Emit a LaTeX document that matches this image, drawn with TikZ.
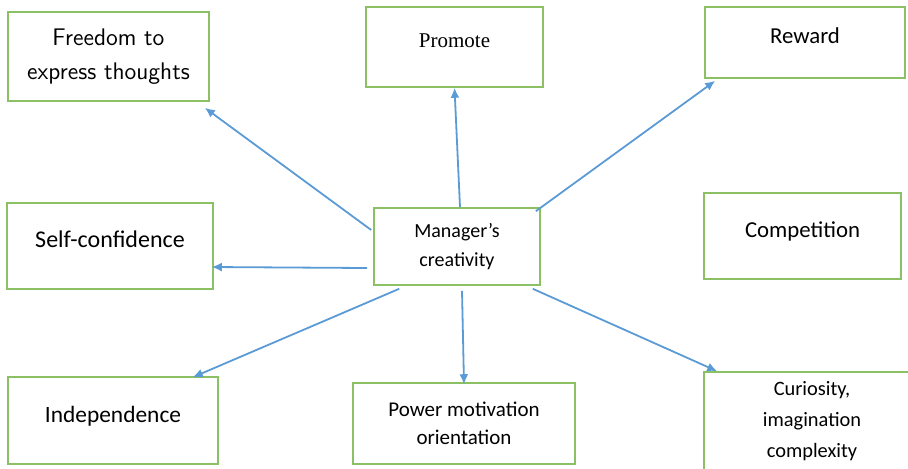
\documentclass[tikz,border=0pt]{standalone}
\usepackage{fontspec}
\usepackage{tikz}
\usetikzlibrary{arrows.meta,calc}
\newfontfamily\calfont{Carlito}
\newfontfamily\serffont{Liberation Serif}
\definecolor{boxgreen}{RGB}{140,192,100}
\definecolor{arrblue}{RGB}{91,155,213}
\newcommand{\fs}[2]{\fontsize{#1}{#2}\selectfont}

\begin{document}
\begin{tikzpicture}[x=0.5pt,y=-0.5pt,>={Latex[length=5pt,width=4.5pt]},
  box/.style={draw=boxgreen,line width=.8pt,inner sep=0pt,align=center},
  lift/.style={text depth=6.5pt},
  arr/.style={->,arrblue,line width=.9pt}]
\clip (0,0) rectangle (908,468);
% boxes
\node[box,minimum width=100.5pt,minimum height=44.5pt,font=\sffamily\fs{12}{17}] (free) at (108.5,56.5) {Freedom to\\express thoughts};
\node[box,lift,minimum width=88.5pt,minimum height=40pt,font=\serffont\fs{10.5}{13}] (prom) at (454.5,47) {Promote};
\node[box,lift,minimum width=100pt,minimum height=35.5pt,font=\calfont\fs{11.4}{14}] (rew) at (805,42.5) {Reward};
\node[box,lift,minimum width=103pt,minimum height=43pt,font=\calfont\fs{12}{14}] (self) at (110,246) {Self-confidence};
\node[box,minimum width=83pt,minimum height=38.5pt,font=\calfont\fs{10}{14.5}] (mgr) at (457,246.5) {Manager’s\\creativity};
\node[box,lift,minimum width=98.5pt,minimum height=43pt,font=\calfont\fs{11.4}{14}] (comp) at (802.5,236) {Competition};
\node[box,lift,minimum width=105pt,minimum height=43.5pt,font=\calfont\fs{11.7}{14}] (ind) at (113,420.5) {Independence};
\node[box,minimum width=111pt,minimum height=40.5pt,font=\calfont\fs{10.5}{14}] (pow) at (464,423.5) {Power motivation\\orientation};
\node[box,minimum width=108pt,minimum height=49pt,font=\calfont\fs{10.2}{15.5}] (cur) at (812,421) {Curiosity,\\imagination\\complexity};
% arrows out of the manager box
\draw[arr] ([shift={(-2,-16.5)}]mgr.west) -- ([shift={(-5,6)}]free.south east);
\draw[arr] ([shift={(3,0)}]mgr.north) -- (prom.south);
\draw[arr] ([shift={(-5,4)}]mgr.north east) -- ([shift={(11,2)}]rew.south west);
\draw[arr] ([shift={(-6,21.5)}]mgr.west) -- ([shift={(-2,21)}]self.east);
\draw[arr] ([shift={(26,3)}]mgr.south west) -- ([shift={(-26,1)}]ind.north east);
\draw[arr] ([shift={(5,5)}]mgr.south) -- ([shift={(0,2)}]pow.north);
\draw[arr] ([shift={(-8,3)}]mgr.south east) -- ([shift={(14,0)}]cur.north west);
\end{tikzpicture}
\end{document}
